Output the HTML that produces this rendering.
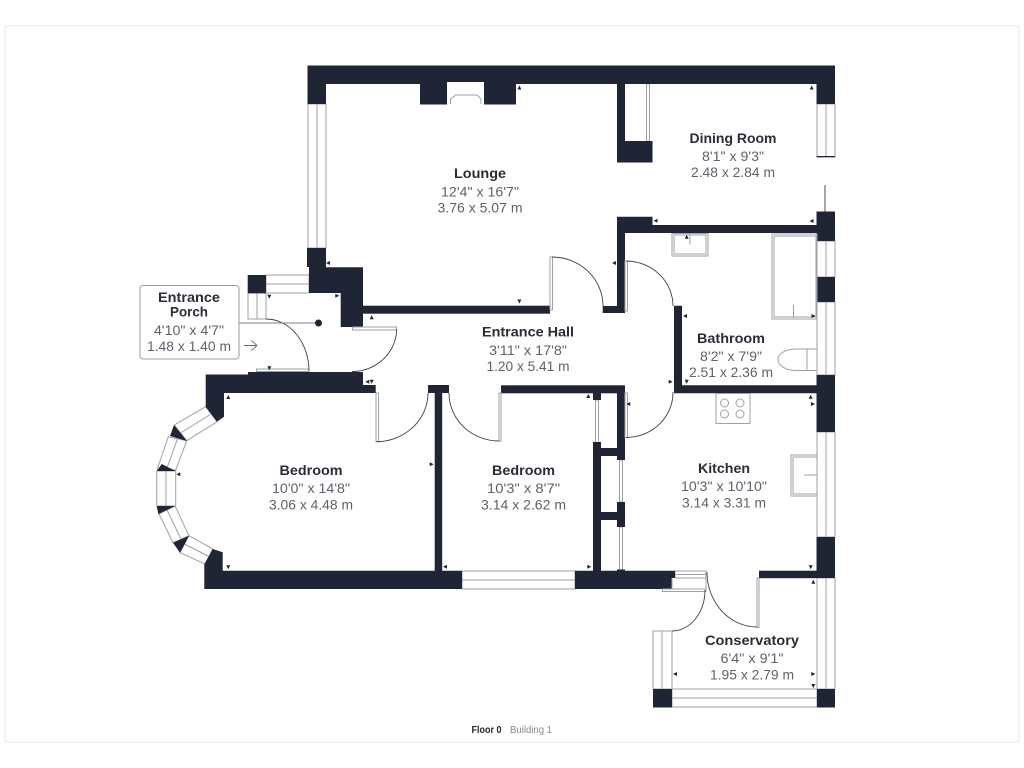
<!DOCTYPE html>
<html>
<head>
<meta charset="utf-8">
<style>
html,body{margin:0;padding:0;background:#fff;width:1024px;height:768px;overflow:hidden}
svg{display:block}
text{font-family:"Liberation Sans",sans-serif;text-anchor:middle}
.t{font-size:14px;font-weight:bold;fill:#2a2d36}
.s{font-size:14px;fill:#5f626a}
.w{fill:#fff;stroke:#9ea1a8;stroke-width:1}
.l{fill:none;stroke:#9ea1a8;stroke-width:1}
.d{fill:none;stroke:#3b404c;stroke-width:.9}
</style>
</head>
<body>
<svg width="1024" height="768" viewBox="0 0 1024 768" xmlns="http://www.w3.org/2000/svg">
<rect x="5" y="26" width="1014" height="716" fill="#fff" stroke="#e8e8ea" stroke-width="1"/>

<!-- windows -->
<g>
<rect class="w" x="308" y="104" width="18" height="144"/><path class="l" d="M317 104V248"/>
<rect class="w" x="817" y="104" width="18" height="53"/><path class="l" d="M826 104V157"/>
<rect class="w" x="817" y="241" width="18" height="36"/><path class="l" d="M826 241V277"/>
<rect class="w" x="817" y="302" width="18" height="73"/><path class="l" d="M826 302V375"/>
<rect class="w" x="817" y="432" width="18" height="105"/><path class="l" d="M826 432V537"/>
<rect class="w" x="817" y="578" width="18" height="111"/><path class="l" d="M826 578V689"/>
<rect class="w" x="672" y="689" width="145" height="18"/><path class="l" d="M672 698H817"/>
<rect class="w" x="653" y="631" width="19" height="58"/><path class="l" d="M662 631V689"/>
<rect class="w" x="462" y="571" width="113" height="18"/><path class="l" d="M462 580H575"/>
<rect class="w" x="266" y="275" width="43" height="18"/><path class="l" d="M266 284H309"/>
<rect class="w" x="248" y="293" width="18" height="26"/><path class="l" d="M257 293V319"/>
<rect class="w" x="675" y="571" width="31" height="7"/><path class="l" d="M675 574.500H706"/>
<rect class="w" x="646.500" y="84" width="3" height="57"/>
<rect class="w" x="595.500" y="400" width="3" height="43"/>
<rect class="w" x="619.500" y="460" width="3" height="42"/>
<rect class="w" x="619.500" y="527" width="3" height="44"/>
<rect fill="#a4a7ad" x="824" y="185" width="2" height="27"/>
<!-- bay -->
<path class="w" d="M205.700 406.700L217 421.700L186.700 440.700L174.300 425Z"/><path class="l" d="M211 414L180.500 433"/>
<path class="w" d="M168.300 436.700L186.700 440.700L175.700 470L157.300 469Z"/><path class="l" d="M177.500 438.700L166.500 469.500"/>
<rect class="w" x="156.700" y="471" width="19" height="35"/><path class="l" d="M166 471V506"/>
<path class="w" d="M159 514L175 506L189 535.700L173 542.700Z"/><path class="l" d="M167 510L181 539"/>
<path class="w" d="M189 535.700L212.700 549L205.700 564.300L180 552.700Z"/><path class="l" d="M184.500 544L209 556.500"/>
</g>

<!-- walls -->
<g fill="#1f2535">
<rect x="307.500" y="65.500" width="527.500" height="18.500"/>
<rect x="307.500" y="84" width="18.500" height="20"/>
<path d="M420 84H516V104.500H484V84H447V104.500H420Z"/>
<rect x="447" y="82" width="37" height="2" fill="#fff"/>
<rect x="816.500" y="84" width="18.500" height="20"/>
<rect x="617" y="84" width="8" height="57"/>
<rect x="617" y="141" width="35.500" height="21.500"/>
<rect x="816.500" y="156" width="18.500" height="1.200"/>
<!-- bathroom top -->
<path d="M617 216.700H652.500V225H816.500V233H625V313H602.700V306H617Z"/>
<rect x="816.500" y="211.500" width="18.500" height="29.500"/>
<rect x="816.500" y="277" width="18.500" height="25"/>
<rect x="816.500" y="375" width="18.500" height="57"/>
<path d="M674 305.700H682V385.300H816.500V393.300H674Z"/>
<!-- hall -->
<rect x="363" y="305.700" width="187" height="8"/>
<path d="M307 248H326V267.300H363V327H340.700V293H309V267H307Z"/>
<path d="M205.700 374.500H248V372H363V385H375.700V393H224V416.700L217 421.700L205.700 406.700Z"/>
<rect x="501" y="385.300" width="124" height="8"/>
<rect x="617" y="393" width="8" height="67"/>
<rect x="593" y="393" width="8" height="7"/>
<path d="M593 442H601V448H617V456H601V512H617V520H601V571H593Z"/>
<rect x="617" y="502" width="8" height="25"/>
<rect x="617" y="569.500" width="8" height="2"/>
<rect x="428" y="385" width="21" height="8"/>
<rect x="434.700" y="393" width="7.500" height="178"/>
<!-- bottom -->
<path d="M204.300 564.300L212.700 549L222.700 552.300V570.700H462V589H204.300Z"/>
<path d="M575 570.700H675V578H672V589H575Z"/>
<rect x="759" y="570.700" width="58" height="7.500"/>
<rect x="816.500" y="537" width="18.500" height="41"/>
<rect x="653" y="689" width="19" height="18.500"/>
<rect x="817" y="689" width="18" height="18.500"/>
<!-- bay corners -->
<path d="M174 425L187 441L170 436Z"/>
<path d="M161.700 464L175.700 471H156.700Z"/>
<path d="M156.700 506H175L158.300 514Z"/>
<path d="M189 535.700L180 552.700L173 542.700Z"/>
<rect x="247.700" y="275" width="18.300" height="18.300"/>
</g>

<!-- fireplace, fittings -->
<path class="l" d="M450.500 104V99L456 95H477L481 99V104"/>
<rect class="w" x="672" y="233.500" width="36" height="22.500"/><rect class="l" x="674" y="235" width="32" height="19"/>
<path class="l" d="M690 233V244.500"/>
<rect class="w" x="772" y="234" width="45" height="85"/><rect class="l" x="774" y="236" width="42" height="81"/>
<path class="l" d="M793.500 305V318"/>
<path class="w" d="M817 349H796C785 349 778 354 778 359.500C778 365 785 370.500 796 370.500H817Z"/>
<path class="l" d="M807 349V370"/>
<rect class="w" x="716" y="393.500" width="34" height="30"/>
<g class="l"><circle cx="724.500" cy="403" r="4"/><circle cx="740" cy="403" r="4"/><circle cx="724.500" cy="414" r="4"/><circle cx="740" cy="414" r="4"/></g>
<rect class="w" x="791" y="455" width="26" height="41"/><rect class="l" x="793" y="457" width="24" height="37"/>
<path class="l" d="M804 475H817"/>

<!-- door frames -->
<g>
<rect class="w" x="625" y="261" width="2.500" height="50"/>
<rect class="w" x="625" y="393" width="2.500" height="44.500"/>
<rect class="w" x="550" y="257" width="2.500" height="53"/>
<rect class="w" x="376" y="393" width="2.500" height="48.700"/>
<rect class="w" x="499" y="393" width="2" height="48"/>
<rect class="w" x="352.500" y="327" width="44" height="3"/>
<rect class="w" x="256.500" y="369" width="52.500" height="2.500"/>
<rect class="w" x="662.500" y="589" width="43.500" height="2.500"/>
<rect class="w" x="757" y="578" width="2" height="49.500"/>
<path class="l" d="M672 578V589M706 578V590"/>
</g>
<g class="d">
<path d="M626 261A47 45 0 0 1 673 306"/>
<path d="M626 437.500A47 45 0 0 0 673 392"/>
<path d="M552 257A51 49 0 0 1 603 306"/>
<path d="M266 319A43 52 0 0 1 309 371"/>
<path d="M396.700 329A44.700 43 0 0 1 352 371.500"/>
<path d="M376 441.700A52 48.700 0 0 0 428 393"/>
<path d="M499 441A50 48 0 0 1 449 393"/>
<path d="M705 590A33 41 0 0 1 672 631"/>
<path d="M757 627A50 55 0 0 1 707 572"/>
</g>

<!-- markers -->
<g fill="#1f2535">
<path d="M519.400 303.500l-2-4h4zM519.400 85.500l2 4h-4zM811.700 85.500l2 4h-4zM653.500 220.700l4-2v4zM809.500 221l4-2v4zM686.700 234.700l2 4h-4zM612 263l4-2v4zM815.500 316l-4-2v4zM683 316l4-2v4zM672.700 381.700l-4-2v4zM686.700 383.700l-2-4h4zM810.700 394.700l2 4h-4zM815 404l-4-2v4zM626.300 404l4-2v4zM588.300 394l2 4h-4zM228.300 395l2 4h-4zM228.300 569.300l-2-4h4zM176.300 474.300l4-2v4zM433.700 464.300l-4-2v4zM443 566.700l4-2v4zM591.300 566.700l-4-2v4zM673 674l4-2v4zM815.300 674l-4-2v4zM813.300 688l-2-4h4zM810.700 569.300l-2-4h4zM813.300 579.700l2 4h-4zM326 263l4-2v4zM371.700 315.300l2 4h-4zM339.300 295.700l-4-2v4zM269.300 298.700l-2-4h4zM269.300 370.300l-2-4h4zM365.300 381.700l4-2v4zM371.700 383.700l-2-4h4z"/>
</g>

<!-- entrance label -->
<path d="M239 323H318" stroke="#7c7f86" stroke-width="1" fill="none"/>
<circle cx="318.500" cy="323" r="3.500" fill="#1f2535"/>
<rect x="140" y="285.500" width="99" height="73.500" rx="3" fill="#fff" stroke="#9a9da3" stroke-width="1"/>
<path d="M244 345.500H256M251.500 340.500L257 345.500L251.500 350.500" fill="none" stroke="#63666d" stroke-width=".9"/>

<!-- labels -->
<text class="t" x="480" y="178" textLength="52" lengthAdjust="spacingAndGlyphs">Lounge</text>
<text class="s" x="480" y="196.500" textLength="78" lengthAdjust="spacingAndGlyphs">12'4" x 16'7"</text>
<text class="s" x="480" y="212.500" textLength="85" lengthAdjust="spacingAndGlyphs">3.76 x 5.07 m</text>

<text class="t" x="733" y="143" textLength="87" lengthAdjust="spacingAndGlyphs">Dining Room</text>
<text class="s" x="733" y="161" textLength="62" lengthAdjust="spacingAndGlyphs">8'1" x 9'3"</text>
<text class="s" x="733" y="177" textLength="84" lengthAdjust="spacingAndGlyphs">2.48 x 2.84 m</text>

<text class="t" x="528" y="336.500" textLength="92" lengthAdjust="spacingAndGlyphs">Entrance Hall</text>
<text class="s" x="528" y="355" textLength="78" lengthAdjust="spacingAndGlyphs">3'11" x 17'8"</text>
<text class="s" x="528" y="371" textLength="83" lengthAdjust="spacingAndGlyphs">1.20 x 5.41 m</text>

<text class="t" x="731" y="343" textLength="68" lengthAdjust="spacingAndGlyphs">Bathroom</text>
<text class="s" x="731" y="361" textLength="62" lengthAdjust="spacingAndGlyphs">8'2" x 7'9"</text>
<text class="s" x="731" y="377" textLength="84" lengthAdjust="spacingAndGlyphs">2.51 x 2.36 m</text>

<text class="t" x="311" y="475" textLength="63" lengthAdjust="spacingAndGlyphs">Bedroom</text>
<text class="s" x="311" y="493" textLength="78" lengthAdjust="spacingAndGlyphs">10'0" x 14'8"</text>
<text class="s" x="311" y="509.500" textLength="84" lengthAdjust="spacingAndGlyphs">3.06 x 4.48 m</text>

<text class="t" x="523.500" y="475" textLength="63" lengthAdjust="spacingAndGlyphs">Bedroom</text>
<text class="s" x="523.500" y="493" textLength="73" lengthAdjust="spacingAndGlyphs">10'3" x 8'7"</text>
<text class="s" x="523.500" y="509.500" textLength="85" lengthAdjust="spacingAndGlyphs">3.14 x 2.62 m</text>

<text class="t" x="724" y="473" textLength="52" lengthAdjust="spacingAndGlyphs">Kitchen</text>
<text class="s" x="724" y="491" textLength="86" lengthAdjust="spacingAndGlyphs">10'3" x 10'10"</text>
<text class="s" x="724" y="507.500" textLength="84" lengthAdjust="spacingAndGlyphs">3.14 x 3.31 m</text>

<text class="t" x="752" y="645" textLength="94" lengthAdjust="spacingAndGlyphs">Conservatory</text>
<text class="s" x="752" y="663" textLength="63" lengthAdjust="spacingAndGlyphs">6'4" x 9'1"</text>
<text class="s" x="752" y="679.500" textLength="84" lengthAdjust="spacingAndGlyphs">1.95 x 2.79 m</text>

<text class="t" x="189" y="302" textLength="62" lengthAdjust="spacingAndGlyphs">Entrance</text>
<text class="t" x="189" y="316.500" textLength="38" lengthAdjust="spacingAndGlyphs">Porch</text>
<text class="s" x="189" y="335" textLength="70" lengthAdjust="spacingAndGlyphs">4'10" x 4'7"</text>
<text class="s" x="189" y="351" textLength="84" lengthAdjust="spacingAndGlyphs">1.48 x 1.40 m</text>

<text x="486.500" y="733" font-size="10" font-weight="bold" fill="#23262e" textLength="30" lengthAdjust="spacingAndGlyphs">Floor 0</text>
<text x="531" y="733" font-size="10" fill="#85878d" textLength="42" lengthAdjust="spacingAndGlyphs">Building 1</text>
</svg>
</body>
</html>
